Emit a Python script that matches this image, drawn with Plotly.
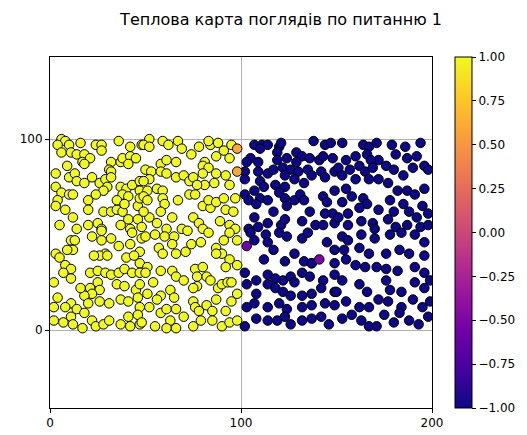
import plotly.graph_objects as go

TITLE = "Теплова карта поглядів по питанню 1"

# Respondents with opinion +1 (left half)
pos_x = [6,8,4,10,6,11,16,24,27,27,36,42,48,14,18,17,21,9,18,32,37,38,42,45,41,31,3,10,13,14,18,22,26,29,32,32,30,28,37,40,43,47,47,38,41,3,6,10,12,4,3,8,20,20,24,28,32,35,38,35,39,46,47,12,5,14,20,25,27,37,41,46,48,42,
         52,59,62,67,49,52,69,74,78,84,88,83,91,95,94,87,81,80,83,58,61,66,50,53,52,49,58,61,66,70,73,75,80,87,92,94,86,81,77,56,59,51,49,51,59,60,67,73,76,80,84,83,87,91,92,96,97,58,64,52,49,56,61,69,75,78,80,89,94,97,
         11,13,12,9,22,27,32,27,36,43,48,42,47,3,5,29,26,30,23,40,44,47,8,11,7,11,21,25,29,32,36,39,43,47,2,25,21,26,22,18,16,35,39,45,47,4,11,8,2,14,20,26,31,37,41,46,47,18,11,2,7,12,17,22,24,28,31,37,41,46,42,47,
         50,55,60,65,72,79,83,91,94,98,57,59,64,66,71,74,87,90,87,94,98,92,51,50,58,64,66,70,76,80,82,77,77,75,84,88,90,93,95,54,63,58,65,56,51,75,76,78,82,85,87,95,98,92,52,58,61,66,70,63,55,61,66,75,79,85,90,94,98,48]
pos_y = [100,99,97,97,93,93,98,97,97,94,99,96,97,92,92,88,90,86,87,88,88,90,91,90,87,84,82,80,82,78,77,80,77,79,83,80,75,73,75,74,76,78,73,71,70,75,72,71,71,68,65,63,68,63,71,62,62,63,62,68,66,65,69,59,55,53,55,56,53,55,58,58,54,53,
         100,99,97,99,97,96,95,92,96,97,98,99,94,97,90,91,88,86,85,87,89,88,84,83,79,78,83,82,80,81,78,80,82,82,81,76,77,76,76,74,73,73,70,68,69,66,68,71,71,65,64,68,67,69,63,62,69,62,59,59,62,56,53,53,59,56,53,57,55,53,
         47,47,42,42,49,52,48,47,44,51,48,45,41,40,38,40,39,39,39,38,39,35,34,32,30,27,30,31,30,29,30,32,30,30,25,25,22,21,19,18,22,24,23,21,24,17,14,12,12,11,14,15,14,16,15,17,12,9,7,5,4,3,1,5,2,3,5,3,7,8,2,3,
         49,50,49,49,52,46,51,47,51,47,43,40,45,40,41,45,43,40,40,37,34,33,33,30,31,31,28,26,32,33,28,28,23,22,26,22,24,25,25,25,21,18,17,16,19,15,12,10,13,10,16,15,19,10,12,9,11,11,7,5,2,1,1,2,5,5,2,4,5,4]
pos_v = [1.0] * len(pos_x)

# Respondents with opinion -1 (right half)
neg_x = [107,111,114,110,120,121,119,138,144,147,105,103,109,119,124,129,132,129,136,141,143,148,102,109,114,117,122,126,130,135,123,128,133,137,142,144,149,102,110,112,118,123,120,107,102,104,110,108,114,117,123,124,128,131,133,136,143,145,148,144,149,107,104,109,114,121,123,132,139,143,149,
         153,164,167,171,179,186,194,160,166,172,168,181,187,192,155,151,157,162,165,169,176,180,190,196,198,185,153,160,167,172,177,182,187,191,196,155,158,164,166,162,153,172,178,180,185,188,195,198,192,156,151,156,163,169,177,181,187,194,198,170,
         105,113,120,124,132,135,145,149,107,114,117,128,137,112,123,133,137,149,102,108,114,118,122,126,128,132,136,143,149,103,108,114,118,122,126,132,137,142,149,103,107,114,120,124,132,137,144,149,108,114,119,123,126,132,137,142,146,102,
         153,156,163,170,178,184,191,196,154,162,167,176,183,188,196,155,160,165,171,176,182,191,196,150,153,162,166,176,178,184,191,196,199,155,162,167,172,177,184,190,195,199,153,158,163,167,171,175,180,183,188,193,198]
neg_y = [97,97,97,95,96,98,93,99,97,98,90,88,88,89,90,93,91,88,90,89,91,90,83,83,82,84,85,84,83,84,81,79,77,81,83,80,83,79,78,75,76,75,72,73,71,68,69,66,68,62,69,65,68,71,68,62,70,67,61,61,73,59,53,54,56,55,58,57,55,55,56,
         98,97,96,98,97,96,98,91,92,89,89,92,90,91,89,85,84,86,83,85,86,84,85,86,84,81,81,79,79,79,77,73,73,71,74,74,70,69,66,64,67,63,68,62,66,62,65,61,59,61,59,55,57,56,58,54,55,54,55,53,
         51,50,51,49,48,51,46,42,47,46,42,40,35,37,36,36,35,35,30,26,29,27,26,28,25,30,28,26,29,24,19,24,22,20,18,18,19,22,20,12,14,12,14,11,12,13,14,13,6,5,5,7,3,5,6,7,3,2,
         49,47,50,48,50,51,50,46,42,43,40,40,42,40,39,37,34,33,33,32,31,33,30,20,26,24,20,26,21,20,25,22,26,15,12,12,16,15,12,16,12,15,6,8,5,2,2,8,4,9,5,3,7]
neg_v = [-1.0] * len(neg_x)

# A few respondents near the border with intermediate opinions
mid_x = [98, 98, 103, 141]
mid_y = [95, 83, 44, 37]
mid_v = [0.6, 0.6, -0.55, -0.5]

xs = pos_x + neg_x + mid_x
ys = pos_y + neg_y + mid_y
vs = pos_v + neg_v + mid_v

x_ticks = [0, 100, 200]
y_ticks = [0, 100]
cbar_ticks = [-1.0, -0.75, -0.5, -0.25, 0.0, 0.25, 0.5, 0.75, 1.0]

font = "DejaVu Sans, Liberation Sans, sans-serif"

fig = go.Figure(go.Scatter(
    x=xs, y=ys, mode="markers",
    marker=dict(
        size=9.5, color=vs, colorscale="Plasma", cmin=-1, cmax=1,
        line=dict(color="black", width=1),
        colorbar=dict(
            x=1.06, xanchor="left", xref="paper", xpad=0,
            y=0.5, yanchor="middle", ypad=0,
            len=1.0, lenmode="fraction", thickness=17, thicknessmode="pixels",
            outlinecolor="black", outlinewidth=1,
            tickvals=cbar_ticks, tickformat=".2f", ticks="outside",
            ticklen=4, tickcolor="black",
            tickfont=dict(family=font, size=12, color="black"),
        ),
    ),
    showlegend=False,
))

axis_common = dict(
    showline=True, linecolor="black", linewidth=1, mirror=True,
    showgrid=True, gridcolor="#b0b0b0", gridwidth=0.8,
    ticks="outside", ticklen=4, tickcolor="black",
    tickfont=dict(family=font, size=12, color="black"),
    zeroline=False,
)

W, H = 519, 427
fig.update_layout(
    width=W, height=H,
    margin=dict(l=42, r=W - 424, t=49, b=H - 400, autoexpand=False),
    paper_bgcolor="white", plot_bgcolor="white",
    title=dict(text=TITLE, x=273 / W, xanchor="center", y=1 - 11 / H, yanchor="middle",
               font=dict(family=font, size=16, color="black")),
    xaxis=dict(range=[0, 200], tickvals=x_ticks, **axis_common),
    yaxis=dict(range=[-40.8, 143], tickvals=y_ticks, **axis_common),
)

fig.write_html("out.html")
